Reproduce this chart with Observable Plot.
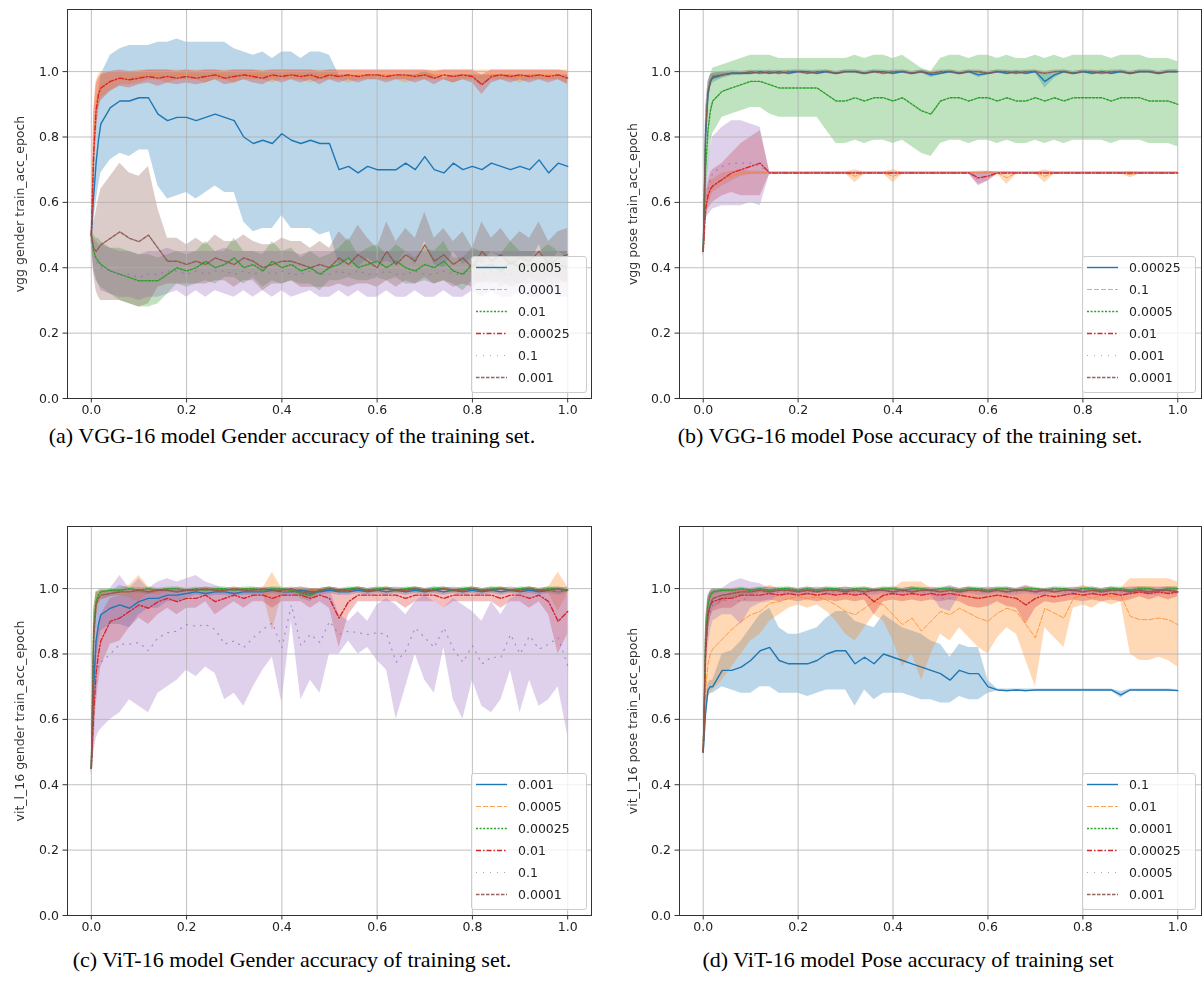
<!DOCTYPE html>
<html><head><meta charset="utf-8">
<script src="https://cdn.jsdelivr.net/npm/d3@7"></script>
<script src="https://cdn.jsdelivr.net/npm/@observablehq/plot@0.6"></script>
<style>
body{margin:0;background:#fff;}
#root{position:relative;width:1203px;height:994px;overflow:hidden;background:#fff;}
.panel{position:absolute;filter:blur(0.7px);}
.ylab{position:absolute;font-family:"DejaVu Sans";font-size:12.5px;color:#333;white-space:nowrap;transform:translate(-50%,-50%) rotate(-90deg);}
.cap{position:absolute;font-family:"Liberation Serif";font-size:22px;color:#000;white-space:nowrap;transform:translate(-50%,-50%);}
#err{position:absolute;left:10px;top:10px;color:red;font:14px sans-serif;}
</style></head><body><div id="root"></div>
<script>
// ---------- shared x grid (fraction of training) ----------
const X = [0,0.005,0.01,0.015,0.02,
0.04,0.06,0.08,0.10,0.12,0.14,0.16,0.18,0.20,
0.22,0.24,0.26,0.28,0.30,0.32,0.34,0.36,0.38,0.40,
0.42,0.44,0.46,0.48,0.50,0.52,0.54,0.56,0.58,0.60,
0.62,0.64,0.66,0.68,0.70,0.72,0.74,0.76,0.78,0.80,
0.82,0.84,0.86,0.88,0.90,0.92,0.94,0.96,0.98,1.00];
const TICKS = [0,0.2,0.4,0.6,0.8,1.0];

// ---------- (a) VGG gender ----------
const A_LR = ["0.0005","0.0001","0.01","0.00025","0.1","0.001"];
const A_m_0005 = [0.50,0.62,0.72,0.79,0.84,
0.89,0.91,0.91,0.92,0.92,0.87,0.85,0.86,0.86,
0.85,0.86,0.87,0.86,0.85,0.80,0.78,0.79,0.78,0.81,
0.79,0.78,0.79,0.78,0.78,0.70,0.71,0.69,0.71,0.70,
0.70,0.70,0.72,0.70,0.74,0.70,0.69,0.72,0.70,0.71,
0.70,0.72,0.71,0.70,0.71,0.70,0.73,0.69,0.72,0.71];
const A_s_0005 = [0.03,0.08,0.12,0.14,0.15,
0.16,0.16,0.17,0.16,0.16,0.22,0.24,0.24,0.23,
0.24,0.23,0.22,0.23,0.22,0.26,0.27,0.27,0.26,0.25,
0.27,0.26,0.27,0.28,0.27,0.29,0.28,0.29,0.28,0.29,
0.28,0.29,0.27,0.29,0.26,0.29,0.29,0.27,0.29,0.28,
0.29,0.27,0.28,0.29,0.28,0.29,0.26,0.29,0.27,0.28];
const A_m_0001 = [0.50,0.78,0.90,0.94,0.96,
0.97,0.98,0.98,0.985,0.99,0.99,0.985,0.99,0.99,
0.99,0.985,0.99,0.99,0.985,0.99,0.99,0.99,0.985,0.99,
0.99,0.99,0.985,0.99,0.99,0.99,0.985,0.99,0.99,0.99,
0.99,0.99,0.985,0.99,0.99,0.99,0.99,0.985,0.99,0.99,
0.98,0.99,0.99,0.99,0.985,0.99,0.99,0.99,0.99,0.985];
const A_s_0001 = [0.02,0.10,0.07,0.05,0.04,
0.03,0.02,0.02,0.02,0.015,0.015,0.02,0.015,0.015,
0.015,0.02,0.015,0.015,0.02,0.015,0.015,0.015,0.02,0.015,
0.015,0.015,0.02,0.015,0.015,0.015,0.02,0.015,0.015,0.015,
0.015,0.015,0.02,0.015,0.015,0.015,0.015,0.02,0.015,0.015,
0.025,0.015,0.015,0.015,0.02,0.015,0.015,0.015,0.015,0.02];
const A_m_01 = [0.50,0.45,0.43,0.42,0.41,
0.39,0.38,0.37,0.36,0.36,0.36,0.38,0.40,0.39,
0.40,0.42,0.40,0.41,0.43,0.40,0.41,0.39,0.42,0.40,
0.41,0.39,0.40,0.38,0.40,0.41,0.43,0.40,0.41,0.42,
0.40,0.42,0.40,0.39,0.41,0.40,0.42,0.39,0.38,0.41,
0.40,0.41,0.39,0.42,0.40,0.41,0.40,0.42,0.41,0.40];
const A_s_01 = [0.02,0.05,0.06,0.07,0.07,
0.07,0.08,0.08,0.08,0.08,0.07,0.06,0.05,0.05,
0.05,0.06,0.05,0.04,0.06,0.05,0.04,0.05,0.06,0.05,
0.05,0.04,0.05,0.05,0.04,0.05,0.06,0.04,0.05,0.05,
0.04,0.05,0.05,0.04,0.05,0.05,0.06,0.04,0.05,0.05,
0.05,0.04,0.05,0.06,0.05,0.04,0.05,0.05,0.04,0.05];
const A_m_00025 = [0.50,0.75,0.88,0.93,0.95,
0.97,0.98,0.975,0.98,0.985,0.98,0.985,0.98,0.985,
0.98,0.985,0.99,0.98,0.985,0.99,0.985,0.98,0.99,0.985,
0.99,0.985,0.99,0.98,0.99,0.985,0.99,0.985,0.99,0.99,
0.985,0.99,0.99,0.985,0.99,0.98,0.99,0.985,0.99,0.985,
0.96,0.985,0.99,0.985,0.99,0.985,0.99,0.985,0.99,0.98];
const A_s_00025 = [0.03,0.12,0.08,0.05,0.04,
0.03,0.025,0.025,0.02,0.02,0.025,0.02,0.02,0.02,
0.02,0.02,0.015,0.02,0.02,0.015,0.02,0.02,0.015,0.02,
0.015,0.02,0.015,0.02,0.015,0.02,0.015,0.02,0.015,0.015,
0.02,0.015,0.015,0.02,0.015,0.02,0.015,0.02,0.015,0.02,
0.03,0.02,0.015,0.02,0.015,0.02,0.015,0.02,0.015,0.02];
const A_m_1 = [0.50,0.44,0.42,0.41,0.40,
0.39,0.38,0.38,0.37,0.38,0.38,0.39,0.39,0.38,
0.39,0.38,0.39,0.39,0.38,0.39,0.38,0.39,0.38,0.39,
0.38,0.38,0.39,0.38,0.38,0.39,0.38,0.39,0.38,0.38,
0.39,0.38,0.38,0.39,0.38,0.38,0.39,0.38,0.38,0.39,
0.38,0.39,0.38,0.38,0.39,0.38,0.38,0.39,0.38,0.38];
const A_s_1 = [0.02,0.05,0.06,0.06,0.07,
0.07,0.07,0.07,0.07,0.07,0.07,0.07,0.06,0.07,
0.06,0.07,0.06,0.07,0.07,0.06,0.07,0.06,0.07,0.06,
0.07,0.06,0.06,0.07,0.07,0.06,0.07,0.06,0.07,0.07,
0.06,0.07,0.07,0.06,0.07,0.07,0.06,0.07,0.07,0.06,
0.07,0.06,0.07,0.07,0.06,0.07,0.07,0.06,0.07,0.07];
const A_m_001 = [0.50,0.46,0.45,0.46,0.47,
0.49,0.51,0.49,0.48,0.50,0.46,0.42,0.42,0.41,
0.42,0.41,0.43,0.42,0.41,0.43,0.42,0.40,0.41,0.42,
0.42,0.41,0.40,0.41,0.40,0.43,0.41,0.44,0.42,0.40,
0.45,0.41,0.44,0.42,0.47,0.42,0.44,0.41,0.43,0.40,
0.45,0.42,0.44,0.41,0.43,0.42,0.45,0.41,0.43,0.44];
const A_s_001 = [0.03,0.08,0.12,0.15,0.17,
0.19,0.21,0.20,0.20,0.21,0.12,0.07,0.07,0.06,
0.07,0.06,0.07,0.06,0.07,0.07,0.06,0.07,0.06,0.07,
0.06,0.07,0.06,0.07,0.06,0.08,0.07,0.09,0.07,0.06,
0.09,0.07,0.08,0.07,0.10,0.07,0.08,0.07,0.08,0.06,
0.09,0.07,0.08,0.07,0.08,0.07,0.09,0.07,0.08,0.08];

// ---------- (b) VGG pose ----------
const B_LR = ["0.00025","0.1","0.0005","0.01","0.001","0.0001"];
const B_m_00025 = [0.45,0.80,0.93,0.97,0.98,
0.99,0.995,0.995,0.995,1.0,0.995,1.0,0.995,1.0,
1.0,0.995,1.0,0.995,1.0,1.0,0.995,1.0,1.0,0.995,
1.0,0.995,1.0,0.99,0.995,1.0,0.995,1.0,0.99,0.995,
1.0,0.995,1.0,0.995,1.0,0.97,0.99,1.0,0.995,1.0,
0.995,1.0,0.995,1.0,0.995,1.0,1.0,0.995,1.0,1.0];
const B_s_00025 = [0.02,0.08,0.04,0.02,0.015,
0.01,0.008,0.006,0.005,0.005,0.005,0.005,0.005,0.005,
0.005,0.005,0.005,0.005,0.005,0.005,0.005,0.005,0.005,0.005,
0.005,0.005,0.005,0.008,0.005,0.005,0.005,0.005,0.008,0.005,
0.005,0.005,0.005,0.005,0.005,0.02,0.01,0.005,0.005,0.005,
0.005,0.005,0.005,0.005,0.005,0.005,0.005,0.005,0.005,0.005];
const B_m_1 = [0.45,0.58,0.62,0.64,0.65,
0.67,0.68,0.69,0.69,0.69,0.69,0.69,0.69,0.69,
0.69,0.69,0.69,0.69,0.69,0.68,0.69,0.69,0.69,0.68,
0.69,0.69,0.69,0.69,0.69,0.69,0.69,0.69,0.69,0.69,
0.69,0.675,0.69,0.69,0.69,0.68,0.69,0.69,0.69,0.69,
0.69,0.69,0.69,0.69,0.685,0.69,0.69,0.69,0.69,0.69];
const B_s_1 = [0.01,0.04,0.03,0.03,0.02,
0.02,0.015,0.01,0.005,0.005,0.003,0.003,0.003,0.003,
0.003,0.003,0.003,0.003,0.003,0.02,0.003,0.003,0.003,0.02,
0.003,0.003,0.003,0.003,0.003,0.003,0.003,0.003,0.003,0.003,
0.003,0.02,0.003,0.003,0.003,0.02,0.003,0.003,0.003,0.003,
0.003,0.003,0.003,0.003,0.01,0.003,0.003,0.003,0.003,0.003];
const B_m_0005 = [0.45,0.70,0.82,0.88,0.91,
0.94,0.95,0.96,0.97,0.97,0.96,0.95,0.95,0.95,
0.95,0.95,0.93,0.91,0.91,0.92,0.91,0.92,0.92,0.91,
0.92,0.90,0.88,0.87,0.91,0.92,0.92,0.91,0.92,0.92,
0.91,0.92,0.91,0.91,0.92,0.91,0.92,0.91,0.92,0.92,
0.92,0.92,0.91,0.92,0.92,0.92,0.91,0.91,0.91,0.90];
const B_s_0005 = [0.02,0.10,0.12,0.11,0.10,
0.08,0.08,0.08,0.08,0.08,0.09,0.09,0.09,0.09,
0.09,0.09,0.11,0.13,0.13,0.13,0.13,0.13,0.13,0.13,
0.13,0.13,0.13,0.13,0.13,0.13,0.13,0.13,0.13,0.13,
0.13,0.13,0.13,0.13,0.13,0.13,0.13,0.13,0.13,0.13,
0.13,0.13,0.13,0.13,0.13,0.13,0.13,0.13,0.13,0.13];
const B_m_01 = [0.45,0.58,0.62,0.64,0.65,
0.67,0.69,0.70,0.71,0.72,0.69,0.69,0.69,0.69,
0.69,0.69,0.69,0.69,0.69,0.69,0.69,0.69,0.69,0.69,
0.69,0.69,0.69,0.69,0.69,0.69,0.69,0.69,0.675,0.68,
0.69,0.69,0.69,0.69,0.69,0.69,0.69,0.69,0.69,0.69,
0.69,0.69,0.69,0.69,0.69,0.69,0.69,0.69,0.69,0.69];
const B_s_01 = [0.01,0.04,0.04,0.05,0.05,
0.05,0.06,0.08,0.09,0.10,0.003,0.003,0.003,0.003,
0.003,0.003,0.003,0.003,0.003,0.003,0.003,0.003,0.003,0.003,
0.003,0.003,0.003,0.003,0.003,0.003,0.003,0.003,0.02,0.015,
0.003,0.003,0.003,0.003,0.003,0.003,0.003,0.003,0.003,0.003,
0.003,0.003,0.003,0.003,0.003,0.003,0.003,0.003,0.003,0.003];
const B_m_001 = [0.45,0.60,0.64,0.67,0.69,
0.71,0.72,0.72,0.72,0.71,0.69,0.69,0.69,0.69,
0.69,0.69,0.69,0.69,0.69,0.69,0.69,0.69,0.69,0.69,
0.69,0.69,0.69,0.69,0.69,0.69,0.69,0.69,0.67,0.68,
0.69,0.69,0.69,0.69,0.69,0.69,0.69,0.69,0.69,0.69,
0.69,0.69,0.69,0.69,0.69,0.69,0.69,0.69,0.69,0.69];
const B_s_001 = [0.02,0.05,0.08,0.10,0.11,
0.12,0.13,0.13,0.12,0.12,0.003,0.003,0.003,0.003,
0.003,0.003,0.003,0.003,0.003,0.003,0.003,0.003,0.003,0.003,
0.003,0.003,0.003,0.003,0.003,0.003,0.003,0.003,0.02,0.015,
0.003,0.003,0.003,0.003,0.003,0.003,0.003,0.003,0.003,0.003,
0.003,0.003,0.003,0.003,0.003,0.003,0.003,0.003,0.003,0.003];
const B_m_0001 = [0.45,0.82,0.94,0.97,0.985,
0.99,0.995,0.995,1.0,0.995,1.0,0.995,1.0,1.0,
0.995,1.0,1.0,0.995,1.0,1.0,0.995,1.0,0.995,1.0,
1.0,0.995,1.0,0.995,1.0,1.0,0.995,1.0,1.0,0.995,
1.0,1.0,0.995,1.0,1.0,0.995,1.0,1.0,0.995,1.0,
1.0,0.995,1.0,1.0,0.995,1.0,1.0,0.995,1.0,1.0];
const B_s_0001 = [0.02,0.07,0.03,0.02,0.01,
0.008,0.005,0.005,0.005,0.005,0.005,0.005,0.005,0.005,
0.005,0.005,0.005,0.005,0.005,0.005,0.005,0.005,0.005,0.005,
0.005,0.005,0.005,0.005,0.005,0.005,0.005,0.005,0.005,0.005,
0.005,0.005,0.005,0.005,0.005,0.005,0.005,0.005,0.005,0.005,
0.005,0.005,0.005,0.005,0.005,0.005,0.005,0.005,0.005,0.005];

// ---------- (c) ViT gender ----------
const C_LR = ["0.001","0.0005","0.00025","0.01","0.1","0.0001"];
const C_m_001 = [0.45,0.70,0.84,0.89,0.92,
0.94,0.95,0.94,0.96,0.97,0.97,0.98,0.98,0.985,
0.99,0.985,0.99,0.99,0.985,0.99,0.99,0.99,0.995,0.99,
0.99,0.995,0.99,0.99,0.995,0.99,0.99,0.995,0.99,0.995,
0.99,0.995,0.99,0.995,0.99,0.995,0.99,0.995,0.99,0.995,
0.99,0.995,0.99,0.995,0.99,0.995,0.99,0.995,0.99,0.995];
const C_s_001 = [0.02,0.10,0.08,0.06,0.05,
0.05,0.06,0.06,0.04,0.03,0.03,0.02,0.02,0.015,
0.01,0.01,0.01,0.01,0.01,0.01,0.01,0.01,0.01,0.01,
0.01,0.01,0.01,0.01,0.01,0.01,0.01,0.01,0.01,0.01,
0.01,0.01,0.01,0.01,0.01,0.01,0.01,0.01,0.01,0.01,
0.01,0.01,0.01,0.01,0.01,0.01,0.01,0.01,0.01,0.01];
const C_m_0005 = [0.45,0.85,0.95,0.97,0.98,
0.985,0.99,0.99,1.0,0.995,0.99,0.995,1.0,0.995,
0.995,1.0,0.995,0.995,1.0,0.995,1.0,0.995,0.96,0.99,
0.995,1.0,0.995,0.995,1.0,0.995,0.995,1.0,0.995,0.995,
1.0,0.995,0.995,1.0,0.995,0.995,1.0,0.995,0.995,1.0,
0.995,0.995,1.0,0.995,0.995,1.0,0.995,0.995,0.99,0.995];
const C_s_0005 = [0.02,0.08,0.04,0.02,0.015,
0.01,0.01,0.02,0.04,0.01,0.01,0.005,0.005,0.005,
0.005,0.005,0.005,0.005,0.005,0.005,0.005,0.005,0.09,0.01,
0.005,0.005,0.005,0.005,0.005,0.005,0.005,0.005,0.005,0.005,
0.005,0.005,0.005,0.005,0.005,0.005,0.005,0.005,0.005,0.005,
0.005,0.005,0.005,0.005,0.005,0.005,0.005,0.01,0.06,0.01];
const C_m_00025 = [0.45,0.88,0.96,0.98,0.99,
0.995,0.995,1.0,0.995,1.0,0.995,1.0,1.0,0.995,
1.0,0.995,1.0,1.0,0.995,1.0,1.0,0.995,1.0,1.0,
0.995,0.985,0.98,0.995,1.0,0.995,1.0,1.0,0.995,1.0,
1.0,0.995,1.0,1.0,0.995,1.0,1.0,0.995,1.0,1.0,
0.995,1.0,1.0,0.995,1.0,1.0,0.995,1.0,1.0,0.995];
const C_s_00025 = [0.02,0.06,0.03,0.015,0.01,
0.005,0.005,0.005,0.005,0.005,0.005,0.005,0.005,0.005,
0.005,0.005,0.005,0.005,0.005,0.005,0.005,0.005,0.005,0.005,
0.005,0.015,0.02,0.005,0.005,0.005,0.005,0.005,0.005,0.005,
0.005,0.005,0.005,0.005,0.005,0.005,0.005,0.005,0.005,0.005,
0.005,0.005,0.005,0.005,0.005,0.005,0.005,0.005,0.005,0.005];
const C_m_01 = [0.45,0.62,0.74,0.80,0.84,
0.90,0.91,0.93,0.95,0.94,0.96,0.97,0.96,0.97,
0.97,0.98,0.96,0.97,0.98,0.97,0.98,0.98,0.97,0.98,
0.98,0.98,0.97,0.98,0.97,0.91,0.96,0.98,0.98,0.98,
0.98,0.98,0.97,0.98,0.98,0.98,0.97,0.98,0.98,0.98,
0.98,0.98,0.97,0.98,0.98,0.97,0.98,0.96,0.90,0.93];
const C_s_01 = [0.02,0.12,0.10,0.09,0.08,
0.07,0.07,0.05,0.04,0.05,0.04,0.03,0.04,0.03,
0.03,0.02,0.04,0.03,0.02,0.03,0.02,0.02,0.03,0.02,
0.02,0.02,0.03,0.02,0.03,0.09,0.04,0.02,0.02,0.02,
0.02,0.02,0.03,0.02,0.02,0.02,0.03,0.02,0.02,0.02,
0.02,0.02,0.03,0.02,0.02,0.03,0.02,0.04,0.10,0.07];
const C_m_1 = [0.46,0.65,0.73,0.76,0.775,
0.80,0.83,0.83,0.835,0.81,0.85,0.865,0.87,0.89,
0.885,0.89,0.875,0.83,0.84,0.82,0.85,0.875,0.895,0.82,
0.95,0.825,0.86,0.835,0.90,0.86,0.87,0.865,0.86,0.865,
0.86,0.775,0.81,0.88,0.85,0.82,0.88,0.815,0.775,0.825,
0.77,0.79,0.79,0.86,0.80,0.855,0.815,0.83,0.85,0.765];
const C_s_1 = [0.01,0.15,0.19,0.20,0.205,
0.20,0.21,0.17,0.195,0.19,0.17,0.165,0.15,0.14,
0.155,0.13,0.135,0.17,0.16,0.18,0.15,0.125,0.105,0.17,
0.05,0.165,0.14,0.155,0.10,0.06,0.03,0.065,0.04,0.085,
0.11,0.175,0.11,0.08,0.13,0.14,0.06,0.155,0.175,0.105,
0.13,0.17,0.13,0.11,0.18,0.135,0.175,0.17,0.15,0.215];
const C_m_0001 = [0.45,0.85,0.95,0.97,0.98,
0.985,0.99,0.99,0.995,0.99,0.995,0.995,0.99,0.995,
0.995,1.0,0.995,0.995,1.0,0.995,0.995,1.0,0.995,0.995,
1.0,0.99,0.985,0.995,1.0,0.995,0.995,1.0,0.995,0.995,
1.0,0.995,0.995,1.0,0.995,0.995,1.0,0.995,0.995,1.0,
0.995,0.995,1.0,0.995,0.995,1.0,0.995,0.995,1.0,0.995];
const C_s_0001 = [0.02,0.07,0.04,0.02,0.015,
0.01,0.01,0.01,0.008,0.008,0.006,0.005,0.005,0.005,
0.005,0.005,0.005,0.005,0.005,0.005,0.005,0.005,0.005,0.005,
0.005,0.01,0.015,0.005,0.005,0.005,0.005,0.005,0.005,0.005,
0.005,0.005,0.005,0.005,0.005,0.005,0.005,0.005,0.005,0.005,
0.005,0.005,0.005,0.005,0.005,0.005,0.005,0.005,0.005,0.005];

// ---------- (d) ViT pose ----------
const D_LR = ["0.1","0.01","0.0001","0.00025","0.0005","0.001"];
const D_m_1 = [0.50,0.62,0.69,0.70,0.70,
0.75,0.75,0.76,0.78,0.81,0.82,0.78,0.77,0.77,
0.77,0.78,0.80,0.81,0.81,0.77,0.79,0.77,0.80,0.79,
0.78,0.77,0.76,0.75,0.74,0.72,0.75,0.74,0.74,0.70,
0.69,0.688,0.69,0.688,0.69,0.69,0.69,0.69,0.69,0.69,
0.69,0.69,0.69,0.675,0.69,0.69,0.69,0.69,0.69,0.688];
const D_s_1 = [0.01,0.04,0.02,0.02,0.02,
0.05,0.06,0.08,0.10,0.11,0.12,0.10,0.09,0.09,
0.10,0.10,0.11,0.12,0.12,0.13,0.10,0.11,0.12,0.11,
0.10,0.10,0.10,0.09,0.09,0.07,0.08,0.08,0.08,0.02,
0.003,0.005,0.003,0.005,0.003,0.003,0.003,0.003,0.003,0.003,
0.003,0.003,0.003,0.01,0.003,0.003,0.003,0.003,0.003,0.003];
const D_m_01 = [0.51,0.69,0.77,0.80,0.815,
0.845,0.875,0.90,0.92,0.93,0.955,0.96,0.97,0.975,
0.97,0.975,0.965,0.95,0.93,0.92,0.94,0.96,0.95,0.92,
0.89,0.91,0.87,0.90,0.93,0.92,0.94,0.925,0.91,0.90,
0.925,0.94,0.93,0.89,0.85,0.94,0.925,0.91,0.97,0.98,
0.97,0.98,0.975,0.98,0.915,0.905,0.905,0.91,0.905,0.89];
const D_s_01 = [0.01,0.09,0.11,0.12,0.125,
0.125,0.115,0.10,0.08,0.07,0.055,0.04,0.03,0.025,
0.03,0.025,0.035,0.05,0.07,0.08,0.06,0.04,0.05,0.08,
0.13,0.11,0.15,0.10,0.07,0.08,0.06,0.075,0.09,0.10,
0.075,0.06,0.07,0.11,0.15,0.06,0.075,0.09,0.03,0.03,
0.03,0.02,0.025,0.02,0.115,0.125,0.125,0.12,0.125,0.13];
const D_m_0001 = [0.50,0.85,0.95,0.98,0.99,
0.995,0.995,1.0,0.995,1.0,0.995,1.0,1.0,0.995,
1.0,0.995,1.0,1.0,0.995,1.0,1.0,0.995,1.0,1.0,
0.995,1.0,1.0,0.995,1.0,1.0,0.995,1.0,1.0,0.995,
1.0,1.0,0.995,1.0,1.0,0.995,1.0,1.0,0.995,1.0,
1.0,0.995,1.0,1.0,0.995,1.0,1.0,0.995,1.0,1.0];
const D_s_0001 = [0.02,0.06,0.03,0.015,0.01,
0.005,0.005,0.005,0.005,0.005,0.005,0.005,0.005,0.005,
0.005,0.005,0.005,0.005,0.005,0.005,0.005,0.005,0.005,0.005,
0.005,0.005,0.005,0.005,0.005,0.005,0.005,0.005,0.005,0.005,
0.005,0.005,0.005,0.005,0.005,0.005,0.005,0.005,0.005,0.005,
0.005,0.005,0.005,0.005,0.005,0.005,0.005,0.005,0.005,0.005];
const D_m_00025 = [0.50,0.80,0.92,0.95,0.96,
0.97,0.97,0.98,0.98,0.98,0.985,0.98,0.985,0.98,
0.985,0.98,0.985,0.98,0.985,0.98,0.985,0.96,0.98,0.985,
0.98,0.985,0.98,0.985,0.98,0.985,0.98,0.975,0.97,0.975,
0.98,0.975,0.97,0.95,0.97,0.98,0.975,0.98,0.985,0.98,
0.985,0.98,0.985,0.98,0.985,0.99,0.985,0.99,0.985,0.99];
const D_s_00025 = [0.01,0.08,0.05,0.04,0.03,
0.03,0.03,0.02,0.02,0.02,0.02,0.02,0.02,0.02,
0.02,0.02,0.02,0.02,0.02,0.02,0.02,0.04,0.02,0.02,
0.02,0.02,0.02,0.02,0.02,0.02,0.02,0.03,0.03,0.03,
0.02,0.03,0.03,0.06,0.03,0.02,0.02,0.02,0.02,0.02,
0.02,0.02,0.02,0.02,0.02,0.015,0.02,0.015,0.02,0.015];
const D_m_0005 = [0.50,0.80,0.90,0.93,0.95,
0.96,0.97,0.96,0.98,0.985,0.98,0.99,0.99,0.99,
0.99,0.995,0.99,0.99,0.995,0.99,0.99,0.99,0.995,0.99,
0.99,0.995,0.99,0.99,0.97,0.97,0.99,0.995,0.99,0.99,
0.995,0.99,0.99,0.995,0.99,0.99,0.995,0.99,0.99,0.995,
0.99,0.99,0.995,0.99,0.99,0.995,0.99,0.99,0.995,0.99];
const D_s_0005 = [0.01,0.10,0.08,0.06,0.05,
0.04,0.05,0.07,0.04,0.03,0.02,0.01,0.01,0.01,
0.01,0.01,0.01,0.01,0.01,0.01,0.01,0.01,0.01,0.01,
0.01,0.01,0.01,0.01,0.03,0.04,0.01,0.01,0.01,0.01,
0.01,0.01,0.01,0.01,0.01,0.01,0.01,0.01,0.01,0.01,
0.01,0.01,0.01,0.01,0.01,0.01,0.01,0.01,0.01,0.01];
const D_m_001 = [0.50,0.82,0.92,0.95,0.97,
0.98,0.985,0.99,0.99,0.995,0.99,0.995,0.995,0.99,
0.995,0.99,0.995,0.995,0.99,0.995,0.99,0.995,0.995,0.99,
0.995,0.99,0.995,0.995,0.99,0.995,0.99,0.995,0.995,0.99,
0.995,0.99,0.995,0.995,0.99,0.995,0.99,0.995,0.995,0.99,
0.995,0.99,0.995,0.995,0.99,0.995,0.99,0.995,0.995,0.99];
const D_s_001 = [0.01,0.08,0.05,0.04,0.03,
0.02,0.015,0.01,0.01,0.008,0.006,0.005,0.005,0.005,
0.005,0.005,0.005,0.005,0.005,0.005,0.005,0.005,0.005,0.005,
0.005,0.005,0.005,0.005,0.005,0.005,0.005,0.005,0.005,0.005,
0.005,0.005,0.005,0.005,0.005,0.005,0.005,0.005,0.005,0.005,
0.005,0.005,0.005,0.005,0.005,0.005,0.005,0.005,0.005,0.005];

// ---------- styling ----------
const COLORS = ["#1f77b4","#ff7f0e","#2ca02c","#d62728","#9467bd","#8c564b"];
const DASHES = [null,"5,2","2,1.6","5,2,1.5,2","1,6","3.5,1.5"];
const WIDTHS = [1.4,1.0,1.4,1.4,1.2,1.4];
const OPAC = [1,0.7,1,1,0.7,0.9];

const PANELS = [
  {left:0, top:0, w:600, ml:67, mr:9, ylabel:"vgg gender train_acc_epoch", ylabX:19, legLeft:471, legW:115,
   labels:A_LR, means:[A_m_0005,A_m_0001,A_m_01,A_m_00025,A_m_1,A_m_001], sds:[A_s_0005,A_s_0001,A_s_01,A_s_00025,A_s_1,A_s_001],
   cap:"(a) VGG-16 model Gender accuracy of the training set.", capX:292, capY:436},
  {left:600, top:0, w:603, ml:79, mr:2, ylabel:"vgg pose train_acc_epoch", ylabX:32, legLeft:482, legW:113,
   labels:B_LR, means:[B_m_00025,B_m_1,B_m_0005,B_m_01,B_m_001,B_m_0001], sds:[B_s_00025,B_s_1,B_s_0005,B_s_01,B_s_001,B_s_0001],
   cap:"(b) VGG-16 model Pose accuracy of the training set.", capX:910, capY:436},
  {left:0, top:517, w:600, ml:67, mr:9, ylabel:"vit_l_16 gender train_acc_epoch", ylabX:19, legLeft:471, legW:115,
   labels:C_LR, means:[C_m_001,C_m_0005,C_m_00025,C_m_01,C_m_1,C_m_0001], sds:[C_s_001,C_s_0005,C_s_00025,C_s_01,C_s_1,C_s_0001],
   cap:"(c) ViT-16 model Gender accuracy of training set.", capX:292, capY:960},
  {left:600, top:517, w:603, ml:79, mr:2, ylabel:"vit_l_16 pose train_acc_epoch", ylabX:32, legLeft:482, legW:113,
   labels:D_LR, means:[D_m_1,D_m_01,D_m_0001,D_m_00025,D_m_0005,D_m_001], sds:[D_s_1,D_s_01,D_s_0001,D_s_00025,D_s_0005,D_s_001],
   cap:"(d) ViT-16 model Pose accuracy of training set", capX:908, capY:960}
];

const root = d3.select("#root");
const H = 420, MT = 9, MB = 22;
const errs = [];

for (const p of PANELS) {
  p.means.forEach((a,i)=>{ if (a.length!==X.length) errs.push(p.cap.slice(0,3)+" mean "+i+" len "+a.length); });
  p.sds.forEach((a,i)=>{ if (a.length!==X.length) errs.push(p.cap.slice(0,3)+" sd "+i+" len "+a.length); });
  const series = p.labels.map((lr,i)=>X.map((x,j)=>({x, lr, m:p.means[i][j], lo:p.means[i][j]-p.sds[i][j], hi:p.means[i][j]+p.sds[i][j]})));
  const chart = Plot.plot({
    width: p.w, height: H,
    marginLeft: p.ml, marginRight: p.mr, marginTop: MT, marginBottom: MB,
    style: {fontFamily: "DejaVu Sans", fontSize: "12.5px", color: "#222", background: "transparent", overflow: "visible"},
    x: {domain: [-0.05, 1.05], label: null},
    y: {domain: [0, 1.19], label: null},
    marks: [
      ...series.map((d,i)=>Plot.areaY(d, {x:"x", y1:"lo", y2:"hi", fill: COLORS[i], fillOpacity: 0.3, clip: true})),
      Plot.gridX(TICKS, {stroke:"#b0b0b0", strokeOpacity: 1, strokeWidth: 0.8}),
      Plot.gridY(TICKS, {stroke:"#b0b0b0", strokeOpacity: 1, strokeWidth: 0.8}),
      ...series.map((d,i)=>Plot.line(d, {x:"x", y:"m", stroke: COLORS[i], strokeWidth: WIDTHS[i], strokeOpacity: OPAC[i], strokeDasharray: DASHES[i] || undefined, clip: true})),
      Plot.frame({stroke:"#333", strokeWidth: 1}),
      Plot.axisX(TICKS, {tickFormat: d3.format(".1f"), tickSize: 4.5, tickPadding: 2, label: null, stroke: "#333"}),
      Plot.axisY(TICKS, {tickFormat: d3.format(".1f"), tickSize: 4.5, tickPadding: 4, label: null, stroke: "#333"})
    ]
  });
  const div = root.append("div").attr("class","panel")
    .style("left", p.left+"px").style("top", p.top+"px").style("width", p.w+"px").style("height", H+"px");
  chart.style.position = "absolute"; chart.style.left = "0px"; chart.style.top = "0px";
  div.node().appendChild(chart);
  // y label
  div.append("div").attr("class","ylab").style("left", p.ylabX+"px").style("top", ((MT + (H-MB))/2)+"px").text(p.ylabel);
  // legend
  const legH = 136, legTop = H - MB - 6 - legH;
  const leg = div.append("svg").attr("width", p.legW+2).attr("height", legH+2)
    .style("position","absolute").style("left", p.legLeft+"px").style("top", legTop+"px").style("overflow","visible");
  leg.append("rect").attr("x",0.5).attr("y",0.5).attr("width",p.legW).attr("height",legH).attr("rx",2.5)
    .attr("fill","rgba(255,255,255,0.8)").attr("stroke","#cccccc").attr("stroke-width",1);
  p.labels.forEach((lr,i)=>{
    const cy = 11.5 + i*22;
    leg.append("line").attr("x1",5).attr("x2",36).attr("y1",cy).attr("y2",cy)
      .attr("stroke",COLORS[i]).attr("stroke-width",WIDTHS[i]).attr("stroke-opacity",OPAC[i]).attr("stroke-dasharray", DASHES[i] || null);
    leg.append("text").attr("x",47).attr("y",cy).attr("dy","0.35em")
      .attr("font-family","DejaVu Sans").attr("font-size","12.5px").attr("fill","#222").text(lr);
  });
  // caption
  root.append("div").attr("class","cap").style("left", p.capX+"px").style("top", p.capY+"px").text(p.cap);
}
if (errs.length) root.append("div").attr("id","err").text(errs.join(" | "));
</script></body></html>
